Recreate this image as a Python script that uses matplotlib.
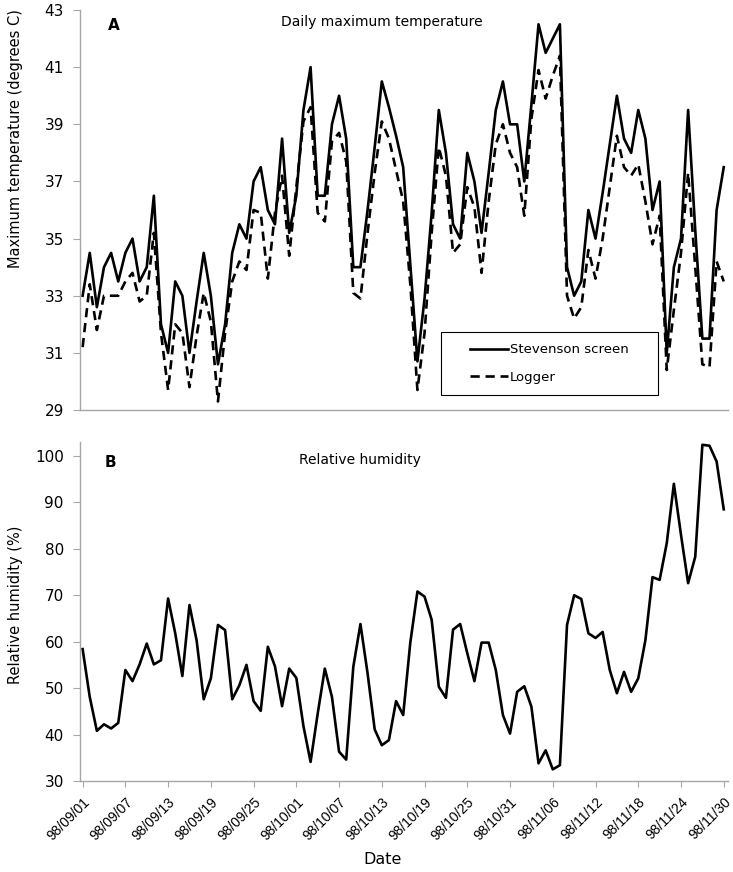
import matplotlib
matplotlib.use("Agg")
import matplotlib.pyplot as plt
from matplotlib.patches import Rectangle

# daily values, 98/09/01 .. 98/11/30 (91 days)
stevenson = [
    33.0, 34.5, 32.6, 34.0, 34.5, 33.5, 34.5, 35.0, 33.5, 34.0,
    36.5, 32.0, 31.0, 33.5, 33.0, 31.0, 32.8, 34.5, 33.0, 30.6,
    32.0, 34.5, 35.5, 35.0, 37.0, 37.5, 36.0, 35.5, 38.5, 35.2,
    36.5, 39.5, 41.0, 36.5, 36.5, 39.0, 40.0, 38.5, 34.0, 34.0,
    36.0, 38.2, 40.5, 39.6, 38.6, 37.5, 34.1, 30.7, 32.9, 35.9,
    39.5, 38.0, 35.5, 35.0, 38.0, 37.0, 35.2, 37.3, 39.5, 40.5,
    39.0, 39.0, 37.0, 39.7, 42.5, 41.5, 42.0, 42.5, 34.0, 33.0,
    33.5, 36.0, 35.0, 36.6, 38.3, 40.0, 38.5, 38.0, 39.5, 38.5,
    36.0, 37.0, 31.0, 34.0, 35.0, 39.5, 35.3, 31.5, 31.5, 36.0,
    37.5,
]
logger = [
    31.2, 33.4, 31.8, 33.0, 33.0, 33.0, 33.5, 33.8, 32.8, 33.0,
    35.2, 31.7, 29.7, 32.0, 31.7, 29.8, 31.6, 33.1, 32.1, 29.3,
    31.7, 33.5, 34.2, 33.9, 36.0, 35.9, 33.6, 35.9, 37.2, 34.4,
    36.8, 39.1, 39.6, 35.9, 35.6, 38.4, 38.7, 37.7, 33.1, 32.9,
    35.2, 37.3, 39.1, 38.5, 37.4, 36.3, 33.4, 29.7, 31.7, 35.2,
    38.2, 37.2, 34.5, 34.8, 36.8, 36.1, 33.8, 36.3, 38.3, 39.0,
    38.0, 37.5, 35.8, 39.2, 40.9, 39.9, 40.7, 41.4, 33.0, 32.2,
    32.6, 34.6, 33.6, 35.0, 36.8, 38.6, 37.5, 37.2, 37.6, 36.3,
    34.8, 35.8, 30.4, 32.5, 34.5, 37.3, 34.0, 30.6, 30.5, 34.2,
    33.5,
]
humidity = [
    58.4, 48.1, 40.8, 42.2, 41.3, 42.5, 53.9, 51.5, 55.1, 59.6,
    55.1, 56.0, 69.3, 61.8, 52.6, 67.9, 60.3, 47.6, 52.1, 63.6,
    62.5, 47.6, 50.6, 55.0, 47.2, 45.1, 58.9, 54.7, 46.1, 54.2,
    52.2, 41.8, 34.1, 44.5, 54.2, 48.1, 36.3, 34.6, 54.6, 63.8,
    53.2, 41.1, 37.7, 38.8, 47.2, 44.2, 59.8, 70.8, 69.7, 64.7,
    50.3, 47.9, 62.6, 63.8, 57.5, 51.5, 59.8, 59.8, 53.9, 44.2,
    40.2, 49.2, 50.4, 46.0, 33.8, 36.6, 32.5, 33.4, 63.6, 70.0,
    69.2, 61.8, 60.8, 62.1, 53.9, 48.9, 53.5, 49.2, 52.1, 60.3,
    73.9, 73.3, 81.2, 94.0, 83.0, 72.6, 78.3, 102.4, 102.2, 98.8,
    88.5,
]
date_labels = [
    "98/09/01", "98/09/07", "98/09/13", "98/09/19", "98/09/25", "98/10/01",
    "98/10/07", "98/10/13", "98/10/19", "98/10/25", "98/10/31", "98/11/06",
    "98/11/12", "98/11/18", "98/11/24", "98/11/30",
]
temp_ticks = [29, 31, 33, 35, 37, 39, 41, 43]
rh_ticks = [30, 40, 50, 60, 70, 80, 90, 100]

days = list(range(len(humidity)))
tick_days = days[::6]

plt.rcParams["font.family"] = ["DejaVu Sans"]
GREY = "#a6a6a6"

fig = plt.figure(figsize=(7.33, 8.72), dpi=100)
ax_t = fig.add_axes([0.1098, 0.5298, 0.8834, 0.4587])
ax_h = fig.add_axes([0.1098, 0.1044, 0.8834, 0.3887])


def style_axis(ax):
    for side in ("top", "right"):
        ax.spines[side].set_visible(False)
    for side in ("left", "bottom"):
        ax.spines[side].set_color(GREY)
        ax.spines[side].set_linewidth(1.0)
    ax.tick_params(axis="y", direction="out", length=5, color=GREY, labelsize=11, pad=7)
    ax.set_xlim(-0.3, 90.6)


# panel A
style_axis(ax_t)
ax_t.plot(days, stevenson, color="black", lw=1.9, label="Stevenson screen")
ax_t.plot(days, logger, color="black", lw=1.9, linestyle=(0, (3.5, 2.2)), label="Logger")
ax_t.set_ylim(29, 43)
ax_t.set_yticks(temp_ticks)
ax_t.set_xticks([])
ax_t.text(0.042, 0.962, "A", transform=ax_t.transAxes, fontsize=11, fontweight="bold",
          ha="left", va="center")
ax_t.text(0.466, 0.97, "Daily maximum temperature", transform=ax_t.transAxes, fontsize=10,
          ha="center", va="center")

ax_t.add_patch(Rectangle((0.557, 0.0375), 0.335, 0.1575, transform=ax_t.transAxes,
                         fill=False, edgecolor="black", lw=0.8))
ax_t.legend(loc="center", bbox_to_anchor=(0.724, 0.116), frameon=False, fontsize=9.5,
            handlelength=2.9, handletextpad=0.15, labelspacing=1.1, borderpad=0)

# panel B
style_axis(ax_h)
ax_h.plot(days, humidity, color="black", lw=1.9)
ax_h.set_ylim(30, 103)
ax_h.set_yticks(rh_ticks)
ax_h.set_xticks(tick_days)
ax_h.set_xticklabels(date_labels, rotation=45, ha="right", rotation_mode="anchor",
                     fontsize=10, family="Liberation Sans")
ax_h.tick_params(axis="x", direction="out", length=4, color=GREY, pad=6)
ax_h.text(0.037, 0.941, "B", transform=ax_h.transAxes, fontsize=11, fontweight="bold",
          ha="left", va="center")
ax_h.text(0.432, 0.947, "Relative humidity", transform=ax_h.transAxes, fontsize=10,
          ha="center", va="center")

fig.text(0.0218, 0.8406, "Maximum temperature (degrees C)", rotation=90, fontsize=10.5,
         ha="center", va="center")
fig.text(0.0218, 0.3062, "Relative humidity (%)", rotation=90, fontsize=10.5,
         ha="center", va="center")
fig.text(0.5225, 0.0138, "Date", fontsize=11.5, ha="center", va="center")

fig.savefig("out.png", dpi=100)
